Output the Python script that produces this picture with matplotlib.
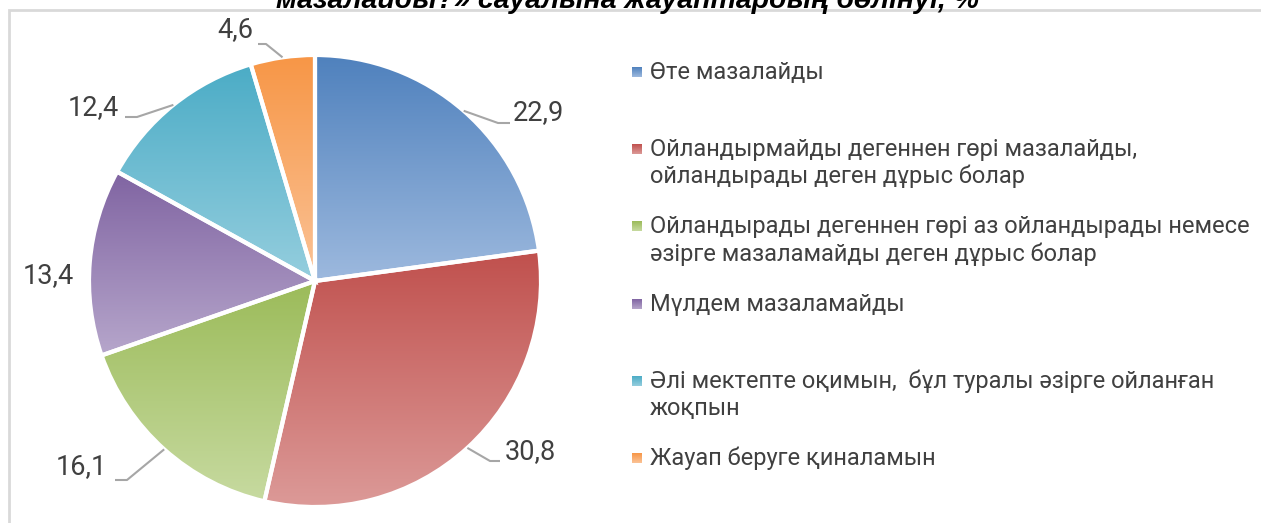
import numpy as np
import matplotlib
matplotlib.use('Agg')
import matplotlib.pyplot as plt
from matplotlib.colors import LinearSegmentedColormap
from matplotlib.patches import Rectangle

plt.rcParams['font.family'] = ['Roboto', 'DejaVu Sans']

# data
categories = [
    'Өте мазалайды',
    'Ойландырмайды дегеннен гөрі мазалайды,\nойландырады деген дұрыс болар',
    'Ойландырады дегеннен гөрі аз ойландырады немесе\nәзірге мазаламайды деген дұрыс болар',
    'Мүлдем мазаламайды',
    'Әлі мектепте оқимын,  бұл туралы әзірге ойланған\nжоқпын',
    'Жауап беруге қиналамын',
]
values = [22.9, 30.8, 16.1, 13.4, 12.4, 4.6]
labels = ['22,9', '30,8', '16,1', '13,4', '12,4', '4,6']
title = 'мазалайды?» сауалына жауаптардың бөлінуі, %'

# gradient colours (top, bottom)
top_colors = ['#4F81BD', '#C0504D', '#9BBB59', '#8064A2', '#4BACC6', '#F79646']
bot_colors = ['#9DB9DE', '#DC9A98', '#C7DAA0', '#B6A6CB', '#95CEDE', '#FBC397']

W, H = 1261, 523
fig = plt.figure(figsize=(W / 100, H / 100), dpi=100)
ax = fig.add_axes([0, 0, 1, 1])

cx, cy, r = 315, H - 281, 226

wedges, _ = ax.pie(values, startangle=90, counterclock=False, radius=r,
                   center=(cx, cy), wedgeprops=dict(linewidth=0))

grad = np.linspace(0, 1, 256).reshape(-1, 1)
for w, c0, c1 in zip(wedges, top_colors, bot_colors):
    w.set_facecolor('none')
    bb = w.get_path().get_extents(w.get_patch_transform())
    cmap = LinearSegmentedColormap.from_list('g', [c0, c1])
    im = ax.imshow(grad, cmap=cmap, aspect='auto', origin='upper',
                   extent=(bb.x0, bb.x1, bb.y0, bb.y1), zorder=1)
    im.set_clip_path(w)
    w.set_edgecolor('white')
    w.set_linewidth(3)
    w.set_zorder(2)

# value labels with leader lines
label_pos = [(513, 113, 'left'), (505, 452, 'left'), (107, 467, 'right'),
             (74, 276, 'right'), (119, 108, 'right'), (235, 30, 'center')]
elbows = [(498, 123, 510), (490, 461, 500), (127, 480, 115),
          None, (137, 117, 125), (266, 44, 258)]
cum = np.cumsum(values) - np.array(values) / 2
total = sum(values)
for i, v in enumerate(values):
    ang = np.deg2rad(90 - cum[i] / total * 360)
    ex, ey = cx + r * np.cos(ang), cy + r * np.sin(ang)
    if elbows[i] is not None:
        bx, by, tx = elbows[i]
        ax.plot([ex, bx, tx], [ey, H - by, H - by], color='#A6A6A6', lw=1.5,
                zorder=3, solid_capstyle='butt')
    lx, ly, ha = label_pos[i]
    ax.text(lx, H - ly, labels[i], ha=ha, va='center', fontsize=19.5,
            color='#404040')

# legend
for i, cat in enumerate(categories):
    y = 72 + i * 77.2
    gim = ax.imshow(grad, cmap=LinearSegmentedColormap.from_list('g', [top_colors[i], bot_colors[i]]),
                    aspect='auto', origin='upper',
                    extent=(632, 642, H - y - 5, H - y + 5), zorder=2)
    ax.text(650, H - y + 11, cat, ha='left', va='top', fontsize=17,
            color='#404040', linespacing=1.2)

# chart border
ax.add_patch(Rectangle((9, -50), W + 100, H - 10 + 50, fill=False,
                       edgecolor='#D9D9D9', lw=2, zorder=0))

# title, clipped by the top edge as in the source
ax.text(627, H - 8, title, ha='center', va='baseline', fontsize=20.5,
        fontweight='bold', fontstyle='italic', color='black',
        family=['Liberation Sans', 'DejaVu Sans'])

ax.set_xlim(0, W)
ax.set_ylim(0, H)
ax.set_aspect('auto')
ax.axis('off')

fig.savefig('out.png', dpi=100)
